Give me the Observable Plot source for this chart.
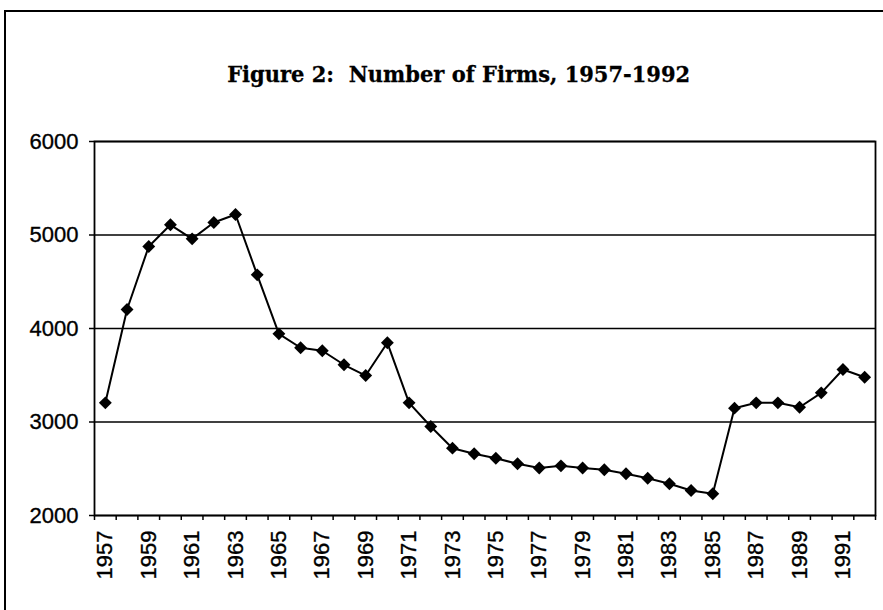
<!DOCTYPE html>
<html>
<head>
<meta charset="utf-8">
<script src="https://cdn.jsdelivr.net/npm/d3@7"></script>
<script src="https://cdn.jsdelivr.net/npm/@observablehq/plot@0.6"></script>
<style>
  html, body { margin: 0; padding: 0; background: #fff; overflow: hidden; width: 883px; height: 610px; }
  #outer { position: absolute; left: 4px; top: 10px; width: 1000px; height: 1000px; z-index: 2;
           border-left: 2px solid #000; border-top: 2px solid #000; box-sizing: border-box; pointer-events: none; }
  #title { position: absolute; left: 17px; top: 60px; width: 883px; text-align: center;
           font-family: "DejaVu Serif", serif; font-weight: bold; font-size: 23px; line-height: 28px; }
  #title span { display: inline-block; transform-origin: center; white-space: pre; -webkit-text-stroke: 0.3px #000; }
  #chart { position: absolute; left: 0; top: 110px; }
  #chart svg { background: transparent !important; }
  #chart svg text { font-family: "Liberation Sans", Arial, sans-serif !important; font-size: 22px !important; fill: #000; stroke: #000; stroke-width: 0.35px; }
</style>
</head>
<body>
<div id="outer"></div>
<div id="title"><span>Figure 2:  Number of Firms, 1957-1992</span></div>
<div id="chart"></div>
<script>
const years = [1957,1958,1959,1960,1961,1962,1963,1964,1965,1966,1967,1968,1969,1970,1971,1972,1973,1974,1975,1976,1977,1978,1979,1980,1981,1982,1983,1984,1985,1986,1987,1988,1989,1990,1991,1992];
const firms = [3205,4203,4877,5109,4959,5134,5219,4574,3943,3794,3762,3612,3497,3847,3205,2952,2720,2660,2612,2553,2508,2531,2508,2489,2446,2399,2340,2267,2232,3148,3205,3205,3158,3312,3561,3479];
const yTicks = [2000,3000,4000,5000,6000];
const xLabels = years.filter(y => y % 2 === 1);
const xBoundaries = years.map(y => y - 0.5).concat([years[years.length - 1] + 0.5]);

const data = years.map((year, i) => ({year, firms: firms[i]}));

const chart = Plot.plot({
  width: 883,
  height: 500,
  marginTop: 31,
  marginLeft: 94,
  marginRight: 8,
  marginBottom: 95,
  style: {fontFamily: "'Liberation Sans', Arial, sans-serif", fontSize: "22px", color: "#000", background: "transparent"},
  x: {domain: [xBoundaries[0], xBoundaries[xBoundaries.length - 1]]},
  y: {domain: [2000, 6000]},
  marks: [
    Plot.gridY(yTicks, {stroke: "#000", strokeOpacity: 1, strokeWidth: 1.6}),
    Plot.frame({stroke: "#000", strokeWidth: 1.8}),
    Plot.axisY(yTicks, {tickSize: 5, tickPadding: 11, fontSize: 22, stroke: "#000", strokeWidth: 1.5, tickFormat: d => String(d), label: null}),
    Plot.axisX(xBoundaries, {tickSize: 5, tickFormat: () => "", stroke: "#000", strokeWidth: 1.5, label: null}),
    Plot.axisX(xLabels, {tickSize: 0, tickPadding: 15, tickRotate: -90, fontSize: 22, tickFormat: d => String(d), label: null}),
    Plot.line(data, {x: "year", y: "firms", stroke: "#000", strokeWidth: 2}),
    Plot.dot(data, {x: "year", y: "firms", symbol: "diamond2", r: 5.8, fill: "#000", stroke: "none"})
  ]
});
document.getElementById("chart").appendChild(chart);

// fit title width to the reference
const span = document.querySelector("#title span");
const w = span.getBoundingClientRect().width;
span.style.transform = `scaleX(${463 / w})`;
</script>
</body>
</html>
